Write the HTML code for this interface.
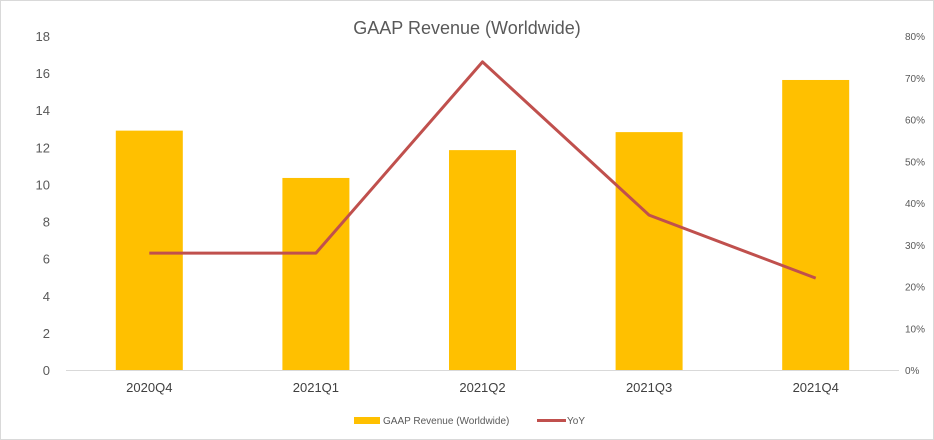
<!DOCTYPE html>
<html><head><meta charset="utf-8"><style>
body{margin:0;background:#fff;}
svg{display:block;font-family:"Liberation Sans","Noto Sans CJK SC",sans-serif;}
</style></head><body>
<svg id="c" width="934" height="440">
<rect x="0.5" y="0.5" width="933" height="439" fill="#fff" stroke="#d9d9d9"/>
<text x="467" y="34" text-anchor="middle" font-size="18" fill="#595959">GAAP Revenue (Worldwide)</text>
<g id="g"></g>
<g>
<rect x="354" y="417" width="26" height="7" fill="#FFC000"/>
<text x="383" y="424" font-size="10" fill="#595959">GAAP Revenue (Worldwide)</text>
<line x1="537" y1="420.5" x2="566" y2="420.5" stroke="#C0504D" stroke-width="3"/>
<text x="567" y="424" font-size="10" fill="#595959">YoY</text>
</g>
</svg>
<script>
const categories=["2020Q4","2021Q1","2021Q2","2021Q3","2021Q4"];
const revenue=[12.9,10.35,11.85,12.82,15.63];
const yoy=[28,28,73.8,37.1,22];
const leftTicks=[0,2,4,6,8,10,12,14,16,18];
const rightTicks=[0,10,20,30,40,50,60,70,80];
const NS="http://www.w3.org/2000/svg";
const g=document.getElementById('g');
const L=66,R=899,B=370,T=36;
const yL=v=>B-(v/18)*(B-T);
const yR=v=>B-(v/80)*(B-T);
const step=(R-L)/categories.length;
const xC=i=>L+step*(i+0.5);
function mk(t,a){const e=document.createElementNS(NS,t);for(const k in a)e.setAttribute(k,a[k]);g.appendChild(e);return e;}
let ax=mk('line',{x1:L,y1:B+0.5,x2:R,y2:B+0.5,stroke:'#d9d9d9'});


leftTicks.forEach(v=>{const t=mk('text',{x:50,y:yL(v)+5,'text-anchor':'end','font-size':13,fill:'#595959'});t.textContent=v;

});
rightTicks.forEach(v=>{const t=mk('text',{x:905,y:yR(v)+4,'font-size':10,fill:'#595959'});t.textContent=v+'%';

});
categories.forEach((c,i)=>{const b=mk('rect',{x:xC(i)-33.5,y:yL(revenue[i]),width:67,height:B-yL(revenue[i]),fill:'#FFC000'});


const t=mk('text',{x:xC(i),y:392,'text-anchor':'middle','font-size':13,fill:'#404040'});t.textContent=c;

});
const p=mk('polyline',{points:yoy.map((v,i)=>xC(i)+','+yR(v)).join(' '),fill:'none',stroke:'#C0504D','stroke-width':3,'stroke-linejoin':'round'});


</script>
</body></html>
